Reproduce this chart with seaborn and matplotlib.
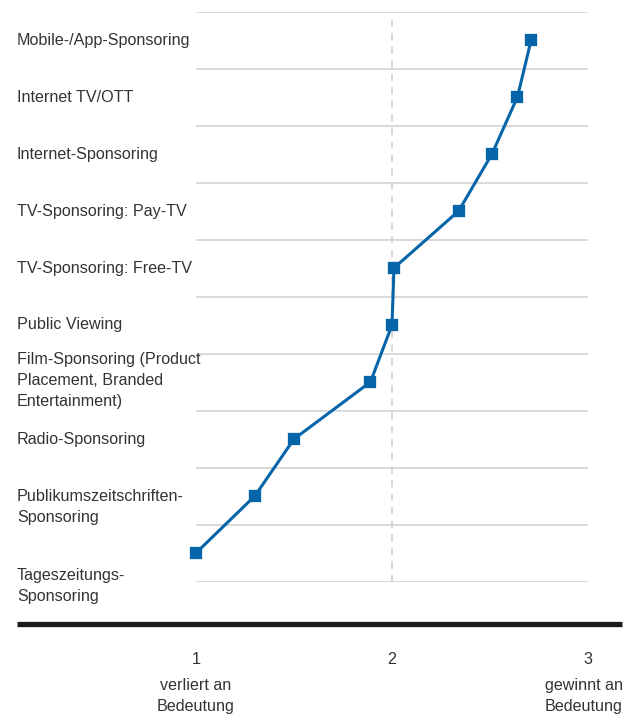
import matplotlib
matplotlib.use("Agg")
import matplotlib.pyplot as plt
import matplotlib.transforms as mtransforms
from matplotlib.lines import Line2D
import numpy as np
import pandas as pd
import seaborn as sns

# ---- data ----
categories = [
    "Mobile-/App-Sponsoring",
    "Internet TV/OTT",
    "Internet-Sponsoring",
    "TV-Sponsoring: Pay-TV",
    "TV-Sponsoring: Free-TV",
    "Public Viewing",
    "Film-Sponsoring (Product\nPlacement, Branded\nEntertainment)",
    "Radio-Sponsoring",
    "Publikumszeitschriften-\nSponsoring",
    "Tageszeitungs-\nSponsoring",
]
values = [2.71, 2.64, 2.51, 2.34, 2.01, 2.00, 1.89, 1.50, 1.30, 1.00]
x_ticks = [1, 2, 3]
x_tick_labels = ["1", "2", "3"]
x_tick_notes = ["verliert an\nBedeutung", "", "gewinnt an\nBedeutung"]

# ---- style ----
sns.set_theme(style="white")
plt.rcParams["font.family"] = ["Liberation Sans", "DejaVu Sans"]
TEXT = "#333333"
BLUE = "#0665a9"
FS = 11.6

W, H = 623, 716
fig = plt.figure(figsize=(W / 100, H / 100), dpi=100)
ax = fig.add_axes([196 / W, 1 - 581.5 / H, (588 - 196) / W, 570 / H])

df = pd.DataFrame({"Kategorie": categories, "Wert": values})
sns.pointplot(data=df, x="Wert", y="Kategorie", orient="h", color=BLUE,
              markers="s", markersize=7.2, linewidth=2.2, errorbar=None, ax=ax)
for ln in ax.lines:
    ln.set_clip_on(False)
    ln.set_zorder(5)
for c in ax.collections:
    c.set_clip_on(False)
    c.set_zorder(6)

ax.set_xlim(1, 3)
ax.set_ylim(len(categories) - 0.5, -0.5)
for b in np.arange(-0.5, len(categories), 1.0):
    ax.axhline(b, color="#cfcfcf", lw=1.1, zorder=0)
ax.axvline(2, color="#d4d4d4", lw=1.3, ls=(0, (4, 3.5)), zorder=0)

ax.set_xticks([])
ax.set_yticks([])
ax.set_xlabel("")
ax.set_ylabel("")
for s in ax.spines.values():
    s.set_visible(False)

# category labels (left aligned at figure left)
label_offsets = [0.01, 0.01, 0.01, 0.01, 0.01, 0.0, -0.02, 0.01, 0.19, 0.58]
trans_y = mtransforms.blended_transform_factory(fig.transFigure, ax.transData)
for i, (lab, off) in enumerate(zip(categories, label_offsets)):
    ax.text(17 / W, i + off, lab, transform=trans_y, ha="left", va="center",
            fontsize=FS, color=TEXT, linespacing=1.5)

# thick bottom rule
fig.add_artist(Line2D([17 / W, 622 / W], [1 - 624 / H] * 2, lw=3.8,
                      color="#1c1c1c", solid_capstyle="butt"))

# x tick labels
trans_x = mtransforms.blended_transform_factory(ax.transData, fig.transFigure)
note_shift = [0, 0, -4]
for t, lab, note, sh in zip(x_ticks, x_tick_labels, x_tick_notes, note_shift):
    ax.text(t, 1 - 660 / H, lab, transform=trans_x, ha="center", va="center",
            fontsize=FS, color=TEXT)
    if note:
        tr = trans_x + mtransforms.ScaledTranslation(sh / 100, 0, fig.dpi_scale_trans)
        ax.text(t, 1 - 696 / H, note, transform=tr, ha="center", va="center",
                fontsize=FS, color=TEXT, linespacing=1.5)

fig.savefig("out.png", dpi=100)
